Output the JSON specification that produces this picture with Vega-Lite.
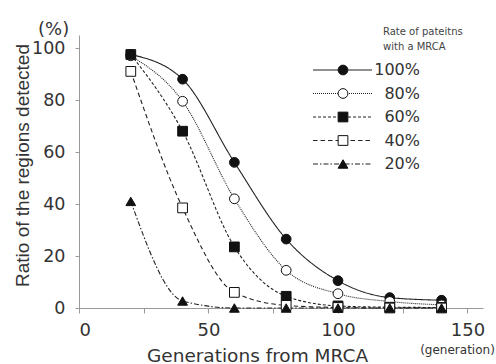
{
  "$schema": "https://vega.github.io/schema/vega-lite/v6.json",
  "width": 404,
  "height": 273,
  "autosize": "none",
  "padding": {"left": 79, "top": 35, "right": 13, "bottom": 56},
  "background": "white",
  "config": {"view": {"stroke": null}, "font": "DejaVu Sans"},
  "title": {"text": "(%)", "anchor": "start", "frame": "group", "orient": "top", "dx": -41, "dy": 29, "offset": 3, "baseline": "alphabetic", "fontSize": 18, "fontWeight": "normal", "color": "#333", "font": "DejaVu Sans"},
  "data": {"values": [
    {"g": 20, "rate": "100%", "v": 97.5}, {"g": 40, "rate": "100%", "v": 88}, {"g": 60, "rate": "100%", "v": 56}, {"g": 80, "rate": "100%", "v": 26.5}, {"g": 100, "rate": "100%", "v": 10.5}, {"g": 120, "rate": "100%", "v": 4}, {"g": 140, "rate": "100%", "v": 3},
    {"g": 20, "rate": "80%", "v": 97}, {"g": 40, "rate": "80%", "v": 79.5}, {"g": 60, "rate": "80%", "v": 42}, {"g": 80, "rate": "80%", "v": 14.5}, {"g": 100, "rate": "80%", "v": 5.5}, {"g": 120, "rate": "80%", "v": 2.5}, {"g": 140, "rate": "80%", "v": 1.2},
    {"g": 20, "rate": "60%", "v": 97.5}, {"g": 40, "rate": "60%", "v": 68}, {"g": 60, "rate": "60%", "v": 23.5}, {"g": 80, "rate": "60%", "v": 4.5}, {"g": 100, "rate": "60%", "v": 0.8}, {"g": 120, "rate": "60%", "v": 0.3}, {"g": 140, "rate": "60%", "v": 0.2},
    {"g": 20, "rate": "40%", "v": 91}, {"g": 40, "rate": "40%", "v": 38.5}, {"g": 60, "rate": "40%", "v": 6}, {"g": 80, "rate": "40%", "v": 1}, {"g": 100, "rate": "40%", "v": 0.2}, {"g": 120, "rate": "40%", "v": 0}, {"g": 140, "rate": "40%", "v": 0},
    {"g": 20, "rate": "20%", "v": 41}, {"g": 40, "rate": "20%", "v": 2.7}, {"g": 60, "rate": "20%", "v": 0}, {"g": 80, "rate": "20%", "v": 0}, {"g": 100, "rate": "20%", "v": 0}, {"g": 120, "rate": "20%", "v": 0}, {"g": 140, "rate": "20%", "v": 0}
  ]},
  "resolve": {"axis": {"x": "independent"}},
  "layer": [
    {
      "mark": {"type": "line", "interpolate": "monotone", "stroke": "#222", "strokeWidth": 1.1},
      "encoding": {
        "x": {"field": "g", "type": "quantitative", "scale": {"domain": [0, 156], "nice": false},
          "axis": {"values": [0, 25, 50, 75, 100, 125, 150], "labelExpr": "datum.value % 50 == 0 ? datum.label : ''", "grid": false,
            "domainColor": "#999", "tickColor": "#999", "tickSize": 5, "labelFontSize": 18, "labelColor": "#333", "labelPadding": 8, "labelFont": "DejaVu Sans",
            "title": "Generations from MRCA", "titleFontSize": 18.5, "titleFontWeight": "normal", "titleColor": "#333", "titleFont": "DejaVu Sans",
            "titleX": 178, "titleY": 47, "titleBaseline": "middle", "titleAlign": "center"}},
        "y": {"field": "v", "type": "quantitative", "scale": {"domain": [0, 105], "nice": false},
          "axis": {"values": [0, 20, 40, 60, 80, 100], "grid": false, "domainColor": "#999", "tickColor": "#999", "tickSize": 4, "labelFontSize": 17.5, "labelColor": "#333", "labelPadding": 10, "labelFont": "DejaVu Sans",
            "title": "Ratio of the regions detected", "titleFontSize": 19, "titleFontWeight": "normal", "titleColor": "#333", "titleFont": "Liberation Sans",
            "titleX": -57, "titleY": 130, "titleBaseline": "middle", "titleAlign": "center", "titleAngle": -90}},
        "strokeDash": {"field": "rate", "type": "nominal", "sort": ["100%", "80%", "60%", "40%", "20%"],
          "scale": {"range": [[1, 0], [1, 1], [3, 2], [4.5, 3], [5, 2, 1.5, 2]]},
          "legend": {"orient": "none", "legendX": 255.5, "legendY": 27, "padding": 0, "title": null,
            "labelFontSize": 16, "labelExpr": "''", "rowPadding": 7.5, "symbolType": "M-5.9,0H5.9", "symbolSize": 100,
            "symbolStrokeColor": "#222", "symbolStrokeWidth": 1.1, "symbolFillColor": "transparent", "symbolOpacity": 1, "zindex": 1}},
        "opacity": {"field": "rate", "type": "ordinal",
          "scale": {"domain": ["20%", "40%", "60%", "80%", "100%"], "range": [1, 1, 1, 1, 1]},
          "legend": {"orient": "none", "legendX": 304, "legendY": -8, "padding": 0,
            "title": ["Rate of pateitns", "with a MRCA"], "titleFontSize": 10, "titleFont": "DejaVu Sans", "titleFontWeight": "normal", "titleColor": "#444", "titleLineHeight": 15, "titlePadding": 10,
            "labelExpr": "''", "symbolOpacity": 0, "symbolStrokeWidth": 0, "zindex": 0}}
      }
    },
    {
      "mark": {"type": "point", "filled": true, "strokeWidth": 1, "size": 95, "opacity": 1},
      "encoding": {
        "x": {"field": "g", "type": "quantitative",
          "axis": {"orient": "bottom", "labels": false, "ticks": false, "domain": false, "grid": false,
            "title": "(generation)", "titleFontSize": 12, "titleFontWeight": "normal", "titleColor": "#333", "titleFont": "DejaVu Sans",
            "titleX": 378, "titleY": 41, "titleBaseline": "middle", "titleAlign": "center"}},
        "y": {"field": "v", "type": "quantitative"},
        "shape": {"field": "rate", "type": "nominal",
          "scale": {"domain": ["100%", "80%", "60%", "40%", "20%"], "range": ["circle", "circle", "square", "square", "triangle-up"]},
          "legend": {"orient": "none", "legendX": 256, "legendY": 27, "padding": 0, "title": null,
            "labelFontSize": 16, "labelFont": "DejaVu Sans", "labelColor": "#333", "labelAlign": "right", "labelOffset": 69, "rowPadding": 7.5,
            "symbolStrokeWidth": 1, "symbolSize": 95, "symbolOpacity": 1, "zindex": 2}},
        "fill": {"field": "rate", "type": "nominal",
          "scale": {"domain": ["100%", "80%", "60%", "40%", "20%"], "range": ["#111", "white", "#111", "white", "#111"]},
          "legend": {"orient": "none", "legendX": 256, "legendY": 27, "padding": 0, "title": null,
            "labelFontSize": 16, "labelFont": "DejaVu Sans", "labelColor": "#333", "labelAlign": "right", "labelOffset": 69, "rowPadding": 7.5,
            "symbolStrokeWidth": 1, "symbolSize": 95, "symbolOpacity": 1, "zindex": 2}},
        "stroke": {"field": "rate", "type": "nominal",
          "scale": {"domain": ["100%", "80%", "60%", "40%", "20%"], "range": ["#111", "#111", "#111", "#111", "#111"]},
          "legend": {"orient": "none", "legendX": 256, "legendY": 27, "padding": 0, "title": null,
            "labelFontSize": 16, "labelFont": "DejaVu Sans", "labelColor": "#333", "labelAlign": "right", "labelOffset": 69, "rowPadding": 7.5,
            "symbolStrokeWidth": 1, "symbolSize": 95, "symbolOpacity": 1, "zindex": 2}}
      }
    }
  ]
}
